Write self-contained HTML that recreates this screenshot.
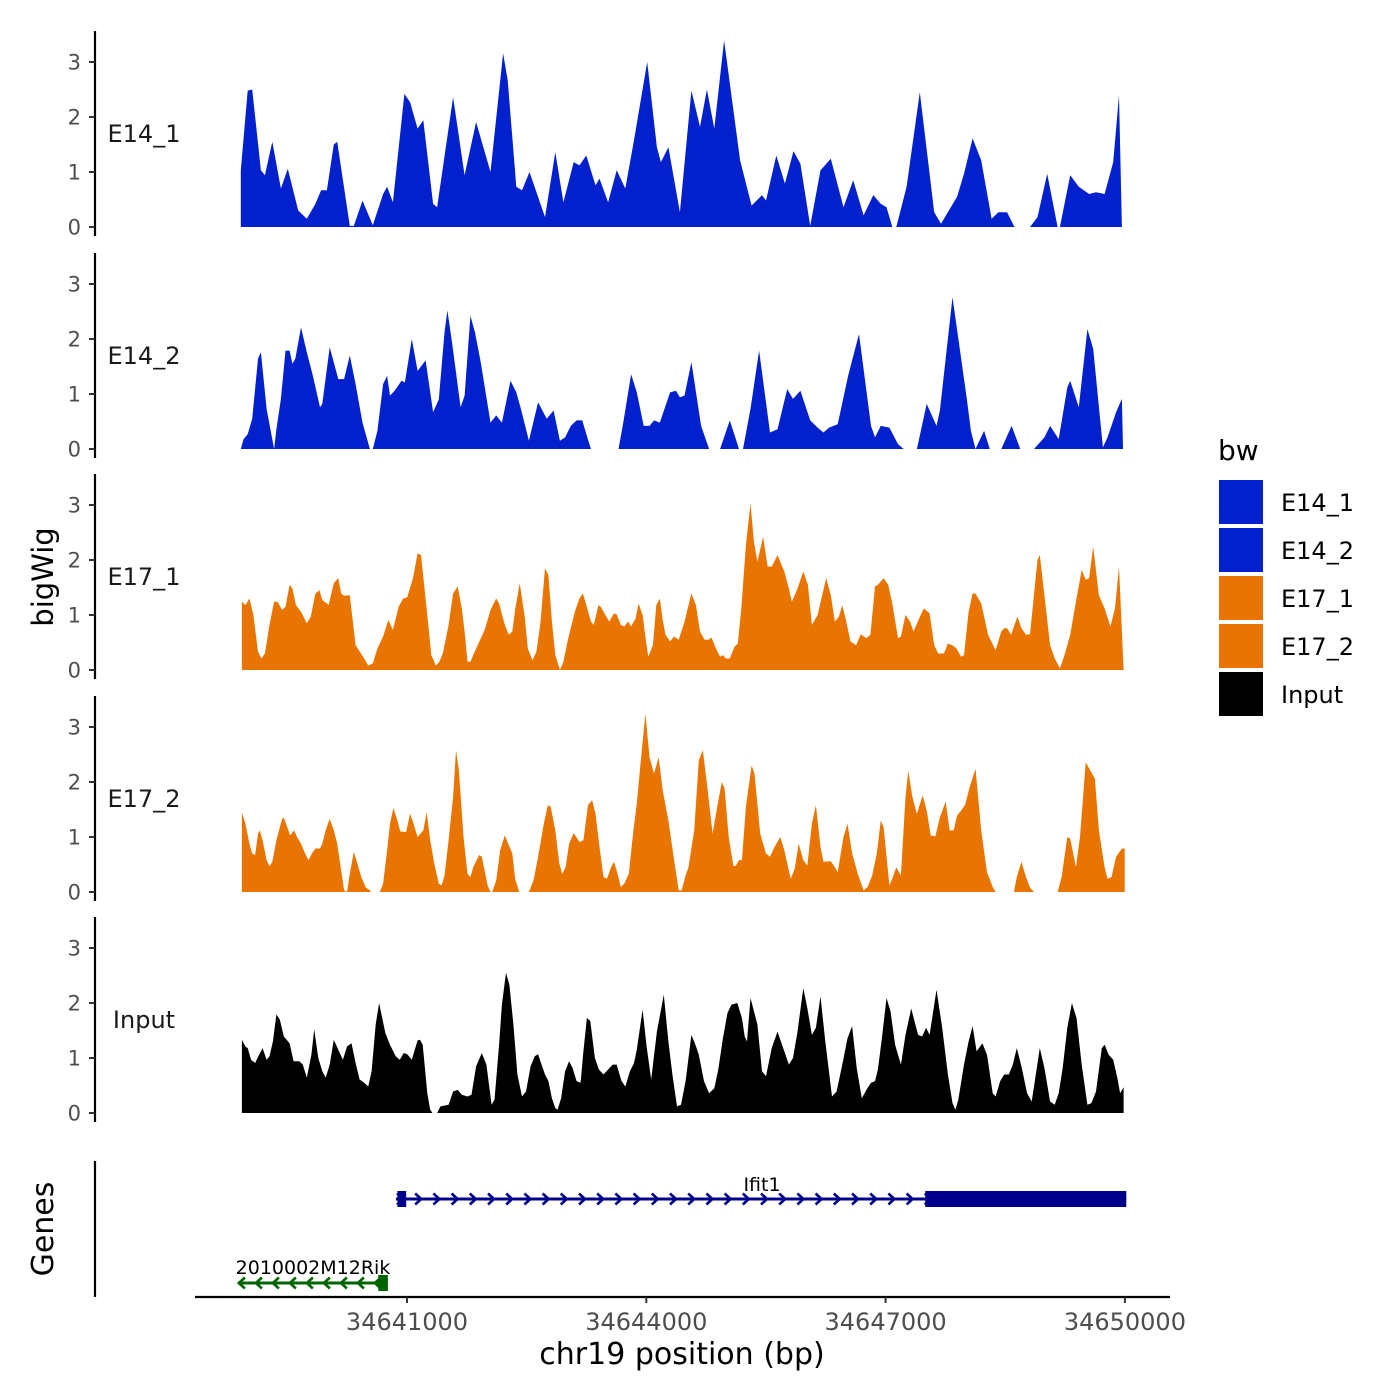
<!DOCTYPE html>
<html><head><meta charset="utf-8">
<style>
html,body{margin:0;padding:0;background:#fff;}
svg{display:block;font-family:"DejaVu Sans","Liberation Sans",sans-serif;}
</style></head>
<body>
<svg id="chart" width="1400" height="1400" viewBox="0 0 1400 1400" xmlns="http://www.w3.org/2000/svg">
<rect width="1400" height="1400" fill="#fff"/>
<g id="tracks"></g>
<g id="axes"></g>
<g id="genes"></g>
<text x="53" y="577" font-size="29" text-anchor="middle" transform="rotate(-90 53 577)" fill="#000">bigWig</text>
<text x="53" y="1229" font-size="30" text-anchor="middle" transform="rotate(-90 53 1229)" fill="#000">Genes</text>
<text x="682" y="1364" font-size="30" text-anchor="middle" fill="#000">chr19 position (bp)</text>
<g>
<text x="1218" y="460" font-size="28" fill="#000">bw</text>
<rect x="1219" y="480" width="44" height="44" fill="#0221cd"/>
<rect x="1219" y="528" width="44" height="44" fill="#0221cd"/>
<rect x="1219" y="576" width="44" height="44" fill="#e87502"/>
<rect x="1219" y="624" width="44" height="44" fill="#e87502"/>
<rect x="1219" y="672" width="44" height="44" fill="#000"/>
<text x="1281" y="511" font-size="24">E14_1</text>
<text x="1281" y="559" font-size="24">E14_2</text>
<text x="1281" y="607" font-size="24">E17_1</text>
<text x="1281" y="655" font-size="24">E17_2</text>
<text x="1281" y="703" font-size="24">Input</text>
</g>
</svg>
<script>
// ---- data ----
const regionStart = 34638844;   // bp of bin 0
const binSize = 7.196;          // bp per bin
const trackNames = ["E14_1","E14_2","E17_1","E17_2","Input"];
const trackColors = ["#0221cd","#0221cd","#e87502","#e87502","#000000"];
const yTicks = [0,1,2,3];
const xTicks = [34641000,34644000,34647000,34650000];
const xTickLabels = ["34641000","34644000","34647000","34650000"];

const e14_1Pos = [10,10,22,30,45,52,65,80,92,110,125,140,150,160,172,178,200,207,222,240,258,265,275,295,305,318,328,345,352,380,400,420,445,467,475,490,500,513,540,558,572,590,600,612,628,635,650,665,680,695,718,735,742,755,775,795,810,822,835,852,880,900,918,925,943,958,973,985,1002,1020,1038,1060,1077,1095,1112,1125,1135,1145,null,1152,1170,1193,1218,1230,1258,1270,1285,1300,1318,1330,1345,1358,null,1385,1398,1415,1433,null,1437,1455,1470,1488,1500,1515,1530,1540,1545];
const e14_1Val = [0,1.03,2.48,2.5,1.03,0.94,1.55,0.7,1.06,0.3,0.15,0.42,0.67,0.67,1.5,1.55,0.02,0.02,0.48,0.03,0.6,0.73,0.45,2.42,2.27,1.79,1.94,0.42,0.36,2.36,0.94,1.91,1.0,3.16,2.67,0.73,0.67,1.0,0.18,1.36,0.45,1.18,1.12,1.3,0.76,0.88,0.45,1.03,0.7,1.58,3.0,1.45,1.18,1.45,0.27,2.48,1.82,2.5,1.79,3.39,1.21,0.39,0.58,0.48,1.3,0.79,1.38,1.15,0.02,1.03,1.24,0.36,0.85,0.21,0.58,0.42,0.36,0,null,0,0.73,2.45,0.27,0.06,0.55,0.97,1.61,1.21,0.15,0.27,0.27,0,null,0,0.18,0.97,0,null,0,0.94,0.73,0.6,0.63,0.6,1.18,2.39,0];

const e14_2Pos = [10,15,22,30,40,45,55,68,72,80,88,95,100,105,115,125,135,148,152,165,180,190,200,210,222,235,null,240,248,258,265,270,278,290,296,308,318,332,345,355,365,370,378,393,400,410,418,428,445,455,465,480,490,498,512,528,543,555,566,575,585,595,605,612,620,null,668,676,690,700,712,722,730,740,758,768,775,783,795,812,826,null,845,862,878,null,885,898,913,932,945,962,972,985,1002,1015,1025,1035,1050,1068,1087,1108,1115,1125,1140,1155,1165,null,1188,1205,1222,1228,1250,1275,1282,1290,1305,1315,null,1335,1353,1368,null,1392,1410,1420,1435,1450,1455,1470,1485,1495,1512,1520,1535,1545,1547];
const e14_2Val = [0,0.18,0.27,0.55,1.64,1.76,0.73,0,0.36,0.91,1.79,1.79,1.55,1.64,2.21,1.76,1.36,0.76,0.82,1.85,1.27,1.27,1.7,1.18,0.48,0,null,0,0.33,1.18,1.33,0.97,1.06,1.24,1.21,2.0,1.42,1.61,0.67,0.9,2.12,2.52,1.94,0.76,0.97,2.42,2.12,1.58,0.48,0.61,0.48,1.24,1.03,0.73,0.15,0.85,0.55,0.7,0.15,0.21,0.42,0.52,0.52,0.27,0,null,0,0.45,1.36,1.03,0.42,0.42,0.52,0.48,1.03,1.06,0.94,0.97,1.58,0.42,0,null,0,0.52,0,null,0,0.73,1.79,0.3,0.36,1.09,0.91,1.06,0.52,0.39,0.3,0.39,0.45,1.33,2.09,0.42,0.21,0.42,0.39,0.09,0,null,0,0.82,0.42,0.7,2.76,0.9,0.33,0,0.33,0,null,0,0.42,0,null,0,0.21,0.42,0.18,1.12,1.24,0.76,2.18,1.82,0.03,0.21,0.67,0.91,0];

const e17_1Pos = [12,12,18,25,32,40,46,52,60,68,74,82,88,95,100,106,115,125,132,140,147,152,160,163,172,180,185,190,200,210,225,232,240,248,258,267,275,285,293,300,310,318,324,335,342,350,356,362,372,380,388,395,400,405,410,420,435,445,455,460,470,477,483,488,496,505,510,518,525,532,540,546,552,558,566,572,580,592,600,606,612,620,625,633,637,645,652,660,665,672,678,685,690,698,703,710,716,720,728,734,740,745,750,758,765,773,783,795,803,810,818,825,830,838,845,850,855,862,870,876,882,890,898,904,910,920,928,935,945,957,965,970,980,990,998,1005,1015,1030,1038,1045,1052,1058,1065,1072,1082,1090,1100,1107,1115,1120,1130,1138,1145,1155,1160,1168,1176,1182,1192,1200,1210,1218,1225,1235,1242,1250,1257,1265,1270,1278,1285,1290,1300,1312,1325,1335,1340,1345,1352,1363,1370,1378,1385,1398,1402,1410,1420,1428,1437,1445,1455,1465,1475,1482,1488,1495,1505,1515,1525,1533,1540,1548];
const e17_1Val = [0,1.24,1.18,1.3,1.0,0.33,0.21,0.3,0.82,1.24,1.24,1.09,1.15,1.55,1.48,1.18,1.06,0.85,0.97,1.39,1.45,1.27,1.21,1.18,1.58,1.67,1.39,1.35,1.36,0.45,0.21,0.08,0.12,0.39,0.61,0.91,0.73,1.15,1.3,1.32,1.67,2.12,2.09,1.0,0.27,0.08,0.15,0.3,0.82,1.39,1.52,1.12,0.7,0.15,0.15,0.39,0.73,1.09,1.3,1.21,0.82,0.64,0.7,1.09,1.58,0.94,0.39,0.18,0.33,0.85,1.85,1.73,0.88,0.27,0,0.15,0.55,1.06,1.3,1.39,1.18,0.88,0.82,1.18,1.15,1.0,0.88,1.03,1.01,0.82,0.79,0.88,0.79,0.94,1.21,1.0,0.52,0.24,0.45,1.18,1.3,0.91,0.64,0.52,0.61,0.55,0.88,1.39,1.18,0.7,0.55,0.55,0.59,0.39,0.24,0.27,0.21,0.21,0.42,0.48,1.12,2.27,3.03,2.33,1.97,2.42,1.88,1.88,2.09,1.79,1.48,1.24,1.48,1.79,1.55,0.82,1.0,1.67,1.36,0.88,0.97,1.18,0.88,0.52,0.45,0.65,0.58,0.64,1.52,1.55,1.67,1.55,1.21,0.58,0.61,1.0,0.88,0.7,0.94,1.12,1.03,0.45,0.3,0.3,0.48,0.45,0.39,0.24,0.27,1.06,1.39,1.39,1.21,0.64,0.36,0.7,0.76,0.76,0.64,0.97,0.76,0.64,0.65,2.0,2.09,1.36,0.45,0.21,0.03,0.27,0.64,1.24,1.82,1.64,1.67,2.24,1.36,1.12,0.79,1.12,1.88,0];

const e17_2Pos = [12,12,18,25,30,35,40,43,48,55,60,65,72,82,85,90,96,103,108,115,122,128,134,140,148,152,158,165,172,178,185,190,195,200,207,213,220,228,235,237,null,252,258,265,270,276,282,288,298,305,310,318,328,334,340,347,355,360,365,372,380,385,390,398,405,410,415,425,430,440,445,448,455,462,470,476,483,488,495,null,512,520,528,538,545,550,558,565,570,576,582,590,600,607,615,622,628,635,642,648,655,660,665,672,678,686,694,700,707,715,722,730,738,745,755,765,773,778,785,790,800,808,815,822,832,840,848,853,860,868,872,878,883,890,900,905,915,925,932,940,950,957,968,975,982,990,997,1005,1012,1020,1025,1038,1045,1050,1060,1067,1075,1085,1095,1102,1110,1118,1125,1130,1140,1146,1152,1160,1168,1173,1180,1188,1198,1205,1212,1220,1228,1238,1245,1252,1258,1265,1272,1280,1290,1300,1310,1320,1325,null,1357,1362,1370,1378,1385,1392,null,1433,1440,1450,1455,1465,1472,1482,1490,1498,1505,1515,1520,1527,1535,1545,1550,1550];
const e17_2Val = [0,1.45,1.24,0.88,0.7,0.67,1.06,1.12,0.94,0.58,0.47,0.55,0.94,1.33,1.35,1.21,1.03,1.12,1.0,0.88,0.7,0.58,0.7,0.79,0.79,0.88,1.12,1.33,1.12,0.88,0.39,0.03,0,0.33,0.73,0.52,0.27,0.08,0.03,0,null,0,0.15,0.76,1.24,1.53,1.33,1.1,1.09,1.42,1.27,1.0,1.12,1.45,0.94,0.52,0.15,0.12,0.3,0.94,1.73,2.58,2.21,1.0,0.33,0.27,0.45,0.67,0.64,0.12,0,0,0.21,0.76,1.03,0.88,0.7,0.24,0,null,0,0.21,0.64,1.24,1.58,1.55,1.12,0.52,0.33,0.45,0.88,1.07,0.91,0.94,1.58,1.67,1.42,0.82,0.27,0.24,0.45,0.55,0.39,0.09,0.15,0.33,1.12,1.61,2.39,3.24,2.45,2.15,2.45,1.85,1.3,0.58,0.03,0.03,0.3,0.45,1.12,2.39,2.58,1.97,1.06,1.55,2.0,1.88,1.0,0.48,0.47,0.58,0.58,1.55,2.3,2.15,1.06,0.7,0.64,0.82,1.0,0.76,0.24,0.42,0.88,0.58,0.48,1.24,1.58,0.82,0.55,0.56,0.45,0.36,1.0,1.24,0.7,0.33,0.03,0.09,0.3,0.7,1.3,1.18,0.12,0.27,0.45,0.3,1.73,2.21,1.73,1.42,1.76,1.48,1.03,1.01,1.36,1.64,1.12,1.12,1.39,1.48,1.59,1.91,2.24,1.12,0.36,0.09,0,null,0,0.27,0.55,0.27,0.08,0,null,0,0.27,1.0,0.97,0.45,1.0,2.36,2.21,2.06,1.12,0.45,0.24,0.27,0.64,0.79,0.79,0];

const inputPos = [12,12,18,22,28,35,42,48,55,60,66,72,78,85,95,102,112,118,125,133,138,145,152,158,165,172,180,188,195,203,210,217,225,232,238,245,251,262,270,280,287,294,300,308,318,322,327,335,340,344,null,352,358,372,380,388,395,405,412,420,430,438,447,452,460,465,472,478,485,492,500,507,515,522,528,533,540,546,552,558,562,568,575,582,588,595,602,607,613,619,627,634,642,650,658,665,673,680,688,695,700,710,717,725,735,747,755,762,770,777,785,795,802,808,817,826,835,842,850,858,865,875,883,888,892,898,910,918,925,935,945,955,965,972,980,990,997,1005,1012,1020,1028,1040,1048,1058,1067,1075,1083,1092,1100,1108,1115,1120,1127,1135,1142,1150,1160,1168,1178,1190,1197,1204,1210,1222,1232,1242,1250,1255,1260,1270,1278,1285,1292,1302,1310,1320,1325,1333,1340,1348,1355,1362,1370,1380,1388,1395,1402,1410,1420,1428,1435,1442,1450,1458,1466,1475,1485,1492,1500,1510,1515,1522,1530,1537,1542,1548,1548];
const inputVal = [0,1.33,1.21,1.18,0.97,0.91,1.06,1.18,0.97,1.03,1.3,1.79,1.7,1.39,1.27,0.94,0.94,0.88,0.64,1.06,1.52,1.0,0.76,0.64,0.88,1.33,1.15,0.97,1.21,1.27,0.91,0.61,0.55,0.48,0.76,1.61,2.0,1.45,1.24,1.03,0.97,1.09,1.07,0.97,1.32,1.33,1.24,0.36,0.06,0,null,0,0.12,0.15,0.39,0.42,0.33,0.3,0.33,0.85,1.09,0.88,0.15,0.24,1.24,1.97,2.55,2.33,1.61,0.7,0.3,0.39,0.85,1.03,1.07,0.91,0.7,0.58,0.27,0.09,0.06,0.27,0.76,0.94,0.82,0.58,0.55,1.12,1.73,1.67,1.0,0.79,0.7,0.79,0.88,0.88,0.59,0.48,0.76,0.91,1.15,1.88,1.21,0.61,1.48,2.15,1.3,0.7,0.12,0.15,0.58,1.42,1.24,1.06,0.58,0.36,0.45,0.79,1.36,1.82,1.97,2.0,1.73,1.39,1.3,2.09,1.61,0.76,0.67,1.18,1.48,1.18,0.88,1.0,1.48,2.27,1.91,1.42,1.55,2.12,1.33,0.3,0.39,0.88,1.36,1.58,0.82,0.27,0.42,0.55,0.58,0.79,1.36,2.09,1.85,1.24,0.88,1.42,1.9,1.42,1.39,1.55,1.42,2.24,1.55,0.7,0.18,0.06,0.24,0.88,1.3,1.58,1.12,1.27,1.06,0.36,0.3,0.58,0.7,0.7,0.88,1.18,0.85,0.36,0.21,0.7,1.18,0.82,0.21,0.15,0.36,0.82,1.55,2.0,1.73,0.88,0.15,0.18,0.39,1.18,1.24,1.06,0.97,0.64,0.36,0.47,0];

const trackPos = [e14_1Pos,e14_2Pos,e17_1Pos,e17_2Pos,inputPos];
const trackVal = [e14_1Val,e14_2Val,e17_1Val,e17_2Val,inputVal];

// genes
const geneNames = ["Ifit1","2010002M12Rik"];
const geneStarts = [34640862,34638880];
const geneEnds = [34650017,34640760];
const geneStrands = ["+","-"];
const geneColors = ["#00008b","#006400"];
const exonStarts = [[34640880],[]];
const exonEnds = [[34640990],[]];
const cdsStarts = [34647497,34640640];
const cdsEnds = [34650017,34640760];

// ---- layout / scales ----
const NS = "http://www.w3.org/2000/svg";
const panelBase = [227,449,670,892,1113];
const pxPerUnit = 55;
const xScale = bp => 407 + (bp - 34641000) * 0.079767;
const binToBp = b => regionStart + b * binSize;
function yScale(i, v){ return panelBase[i] - v * pxPerUnit; }
function mk(tag, attrs, parent){
  const el = document.createElementNS(NS, tag);
  for (const k in attrs) el.setAttribute(k, attrs[k]);
  parent.appendChild(el);
  return el;
}
const gT = document.getElementById('tracks');
const gA = document.getElementById('axes');
const gG = document.getElementById('genes');

for (let i = 0; i < trackNames.length; i++) {
  const pos = trackPos[i], val = trackVal[i];
  let d = "", seg = [];
  const flush = () => {
    if (seg.length > 1) {
      const x0 = xScale(binToBp(seg[0][0])), x1 = xScale(binToBp(seg[seg.length-1][0]));
      d += "M" + x0.toFixed(1) + "," + panelBase[i];
      seg.forEach(p => { d += "L" + xScale(binToBp(p[0])).toFixed(1) + "," + yScale(i, p[1]).toFixed(1); });
      d += "L" + x1.toFixed(1) + "," + panelBase[i] + "Z";
    }
    seg = [];
  };
  for (let k = 0; k < pos.length; k++) {
    if (pos[k] === null || val[k] === null) { flush(); continue; }
    seg.push([pos[k], val[k]]);
  }
  flush();
  const path = mk('path', {d: d, fill: trackColors[i], stroke: 'none'}, gT);
  
  

  const top = panelBase[i] - 196, bot = panelBase[i] + 9;
  const ax = mk('line', {x1: 95, x2: 95, y1: top, y2: bot, stroke: '#000', 'stroke-width': 2.2}, gA);
  
  
  yTicks.forEach(t => {
    const y = yScale(i, t);
    const tk = mk('line', {x1: 89, x2: 95, y1: y, y2: y, stroke: '#333', 'stroke-width': 2}, gA);
    
    
    const tl = mk('text', {x: 81, y: y + 7.5, 'text-anchor': 'end', 'font-size': 21, fill: '#4d4d4d'}, gA);
    
    
    tl.textContent = t;
  });
  const lbl = mk('text', {x: 144, y: panelBase[i] - 85, 'text-anchor': 'middle', 'font-size': 24, fill: '#1a1a1a'}, gA);
  
  
  lbl.textContent = trackNames[i];
}

const gax = mk('line', {x1: 95, x2: 95, y1: 1161, y2: 1297, stroke: '#000', 'stroke-width': 2.2}, gA);


const xax = mk('line', {x1: 195, x2: 1170, y1: 1297, y2: 1297, stroke: '#000', 'stroke-width': 2.2}, gA);


xTicks.forEach((t, k) => {
  const x = xScale(t);
  const tk = mk('line', {x1: x, x2: x, y1: 1297, y2: 1303, stroke: '#333', 'stroke-width': 2}, gA);
  
  
  const tl = mk('text', {x: x, y: 1330, 'text-anchor': 'middle', 'font-size': 24, fill: '#4d4d4d'}, gA);
  
  
  tl.textContent = xTickLabels[k];
});

// genes
const geneY = [1199, 1283];
const labelY = [1191, 1274];
for (let g = 0; g < geneNames.length; g++) {
  const y = geneY[g], c = geneColors[g];
  const x0 = xScale(geneStarts[g]), x1 = xScale(geneEnds[g]);
  const grp = mk('g', {}, gG);
  
  
  mk('line', {x1: x0, x2: x1, y1: y, y2: y, stroke: c, 'stroke-width': 3}, grp);
  const dir = geneStrands[g] === '+' ? 1 : -1;
  const step = g === 0 ? 18.2 : 17;
  for (let x = x0 + 4; x < x1 - 4; x += step) {
    mk('path', {d: `M${x - 3*dir},${y - 5.5}L${x + 3*dir},${y}L${x - 3*dir},${y + 5.5}`, fill: 'none', stroke: c, 'stroke-width': 2.6}, grp);
  }
  exonStarts[g].forEach((s, k) => {
    const xa = xScale(s), xb = xScale(exonEnds[g][k]);
    mk('rect', {x: xa, y: y - 8, width: Math.max(1, xb - xa), height: 16, fill: c}, grp);
  });
  const ca = xScale(cdsStarts[g]), cb = xScale(cdsEnds[g]);
  mk('rect', {x: ca, y: y - 8, width: cb - ca, height: 16, fill: c}, grp);
  const t = mk('text', {x: g === 0 ? 762 : 313, y: labelY[g], 'text-anchor': 'middle', 'font-size': 19, fill: '#000'}, grp);
  
  
  t.textContent = geneNames[g];
}
</script>
</body></html>
